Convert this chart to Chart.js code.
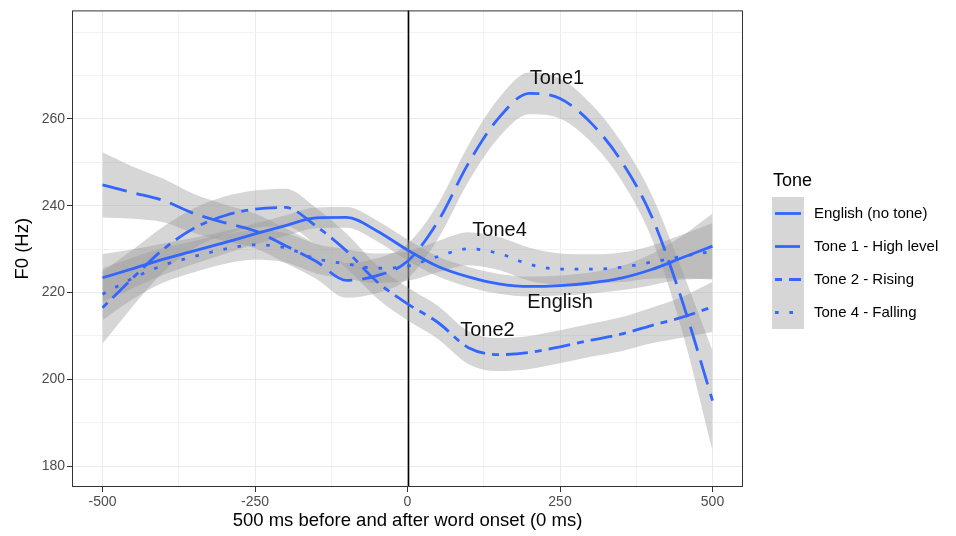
<!DOCTYPE html>
<html><head><meta charset="utf-8">
<script src="https://cdn.jsdelivr.net/npm/chart.js@4/dist/chart.umd.min.js"></script>
<style>html,body{margin:0;padding:0;background:#fff}canvas{display:block}</style>
</head><body>
<canvas id="c" width="956" height="536"></canvas>
<script>
// ---- data ----
const timeMs   = [-500,-450,-400,-350,-300,-250,-200,-150,-100,-50,0,50,100,150,200,250,300,350,400,450,500];
const english  = [223.4,225.5,227.7,229.6,231.5,233.5,235.4,237.2,237.3,234.2,229.8,226.0,223.6,222.0,221.4,221.6,222.2,223.3,225.3,228.0,230.7];
const tone1    = [244.8,243.0,241.2,238.2,236.1,234.2,230.8,227.2,222.8,223.9,227.2,236.4,249.8,260.3,265.9,264.7,259.2,250.4,237.6,218.2,195.1];
const tone2    = [216.5,223.4,230.0,234.8,237.7,239.2,239.6,235.3,229.6,222.5,217.4,213.1,207.3,205.7,206.2,207.5,209.0,210.4,212.4,214.3,216.7];
const tone4    = [219.6,223.3,226.3,228.3,230.0,231.0,230.3,227.8,226.6,225.6,226.1,228.3,230.1,229.0,226.5,225.4,225.4,225.8,227.0,228.3,229.5];
const englishSE = [5.5,4.5,3.6,3.0,2.6,2.4,2.4,2.4,2.4,2.4,2.4,2.3,2.3,2.3,2.3,2.3,2.4,2.8,3.6,5.0,7.5];
const tone1SE   = [7.5,6.0,5.0,4.5,4.2,4.0,4.0,4.0,4.0,4.0,4.0,4.0,4.2,4.5,4.8,4.6,4.4,4.4,5.0,7.0,11.5];
const tone2SE   = [8.3,6.5,5.2,4.6,4.4,4.3,4.3,4.2,4.0,3.8,3.8,3.8,3.8,3.8,3.8,3.8,3.8,3.9,4.1,4.7,5.8];
const tone4SE   = [6.0,4.8,4.0,3.6,3.4,3.4,3.4,3.4,3.4,3.4,3.4,3.6,3.8,3.8,3.8,3.6,3.4,3.4,3.8,5.0,6.5];
const seriesNames = ['English (no tone)','Tone 1 - High level','Tone 2 - Rising','Tone 4 - Falling'];
const yTickLabels = [180,200,220,240,260];
const yGridValues = [180,190,200,210,220,230,240,250,260,270,280];
const xTickLabels = [-500,-250,0,250,500];
const xGridValues = [-500,-375,-250,-125,0,125,250,375,500];
const annText = ['Tone1','Tone4','English','Tone2'];
const annX    = [245,151,250,131];
const annY    = [268.0,233.0,216.4,210.0];

// ---- styling ----
const BLUE = '#3366FF';
const BAND = 'rgba(153,153,153,0.4)';
const FONT = '"Liberation Sans", Arial, Helvetica, sans-serif';
const seriesVals = [english, tone1, tone2, tone4];
const seriesSE = [englishSE, tone1SE, tone2SE, tone4SE];
const dashes = [[], [25,10], [7,7,22,7], [3.6,10.8]];

const pts = arr => timeMs.map((t,i)=>({x:t, y:arr[i]}));
const datasets = [];
seriesVals.forEach((vals, k) => {
  const se = seriesSE[k];
  datasets.push({label: seriesNames[k]+' upper', data: pts(vals.map((v,i)=>v+se[i])), borderWidth:0, borderColor:'transparent', pointRadius:0, fill:false, cubicInterpolationMode:'monotone', order:2});
  datasets.push({label: seriesNames[k]+' lower', data: pts(vals.map((v,i)=>v-se[i])), borderWidth:0, borderColor:'transparent', backgroundColor: BAND, pointRadius:0, fill:'-1', cubicInterpolationMode:'monotone', order:2});
});
seriesVals.forEach((vals, k) => {
  datasets.push({label: seriesNames[k], data: pts(vals), borderColor: BLUE, borderWidth: 2.8, borderDash: dashes[k], borderCapStyle:'butt', pointRadius:0, fill:false, cubicInterpolationMode:'monotone', order:1});
});

const frame = {
  id: 'frame',
  beforeDatasetsDraw(chart) {
    const {ctx, chartArea:a, scales:{x}} = chart;
    ctx.save();
    const x0 = Math.round(x.getPixelForValue(0)) + 0.5;
    ctx.strokeStyle = '#000'; ctx.lineWidth = 1.6;
    ctx.beginPath(); ctx.moveTo(x0, a.top); ctx.lineTo(x0, a.bottom); ctx.stroke();
    ctx.restore();
  },
  afterDatasetsDraw(chart) {
    const {ctx, chartArea:a, scales:{x, y}} = chart;
    ctx.save();
    ctx.strokeStyle = '#333333'; ctx.lineWidth = 1;
    ctx.strokeRect(a.left + 0.5, a.top + 0.5, a.right - a.left - 1, a.bottom - a.top - 1);
    ctx.fillStyle = '#111'; ctx.font = '20px ' + FONT; ctx.textAlign = 'center'; ctx.textBaseline = 'alphabetic';
    annText.forEach((t,i)=> ctx.fillText(t, x.getPixelForValue(annX[i]), y.getPixelForValue(annY[i])));
    // legend
    ctx.textAlign = 'left';
    ctx.fillStyle = '#000'; ctx.font = '18px ' + FONT;
    ctx.fillText('Tone', 773, 186);
    const kx = 772, kw = 32, ky = 197, kh = 33;
    ctx.fillStyle = '#d6d6d6';
    ctx.fillRect(kx, ky, kw, kh * seriesNames.length);
    seriesNames.forEach((n,i)=>{
      const cy = ky + kh*i + kh/2;
      ctx.strokeStyle = BLUE; ctx.lineWidth = 2.8; ctx.lineCap = 'butt';
      ctx.setLineDash(dashes[i]);
      ctx.beginPath(); ctx.moveTo(kx + 3, cy); ctx.lineTo(kx + kw - 3, cy); ctx.stroke();
      ctx.setLineDash([]);
      ctx.fillStyle = '#000'; ctx.font = '15px ' + FONT; ctx.textBaseline = 'middle';
      ctx.fillText(n, 814, cy);
    });
    ctx.restore();
  }
};

new Chart(document.getElementById('c'), {
  type: 'line',
  data: { datasets },
  options: {
    responsive: false, animation: false, devicePixelRatio: 1,
    layout: { padding: { top: 9, right: 213, bottom: 0, left: 0 } },
    plugins: { legend: { display: false }, tooltip: { enabled: false } },
    scales: {
      x: {
        type: 'linear', min: -550, max: 550,
        afterBuildTicks: s => { s.ticks = xGridValues.map(v=>({value:v})); },
        afterFit: s => { s.height = 49; },
        ticks: { autoSkip:false, maxRotation:0, padding: 2, color:'#4d4d4d', font:{family:FONT, size:14},
                 callback: v => xTickLabels.includes(v) ? String(v) : '' },
        grid: { color: c => (c.tick && xTickLabels.includes(c.tick.value)) ? '#ebebeb' : '#f2f2f2', lineWidth: 1,
                drawTicks: true, tickLength: 5, tickWidth: 1,
                tickColor: c => (c.tick && xTickLabels.includes(c.tick.value)) ? '#333333' : 'rgba(0,0,0,0)' },
        border: { display: false },
        title: { display: true, text: '500 ms before and after word onset (0 ms)', color:'#000', font:{family:FONT, size:18.5}, padding:{top:0, bottom:4} }
      },
      y: {
        type: 'linear', min: 175.2, max: 285,
        afterBuildTicks: s => { s.ticks = yGridValues.map(v=>({value:v})); },
        afterFit: s => { s.width = 72; },
        ticks: { autoSkip:false, padding: 2, color:'#4d4d4d', font:{family:FONT, size:14},
                 callback: v => yTickLabels.includes(v) ? String(v) : '' },
        grid: { color: c => (c.tick && yTickLabels.includes(c.tick.value)) ? '#ebebeb' : '#f2f2f2', lineWidth: 1,
                drawTicks: true, tickLength: 5, tickWidth: 1,
                tickColor: c => (c.tick && yTickLabels.includes(c.tick.value)) ? '#333333' : 'rgba(0,0,0,0)' },
        border: { display: false },
        title: { display: true, text: 'F0 (Hz)', color:'#000', font:{family:FONT, size:18.5}, padding:{top:12, bottom:0} }
      }
    }
  },
  plugins: [frame]
});
</script>
</body></html>
